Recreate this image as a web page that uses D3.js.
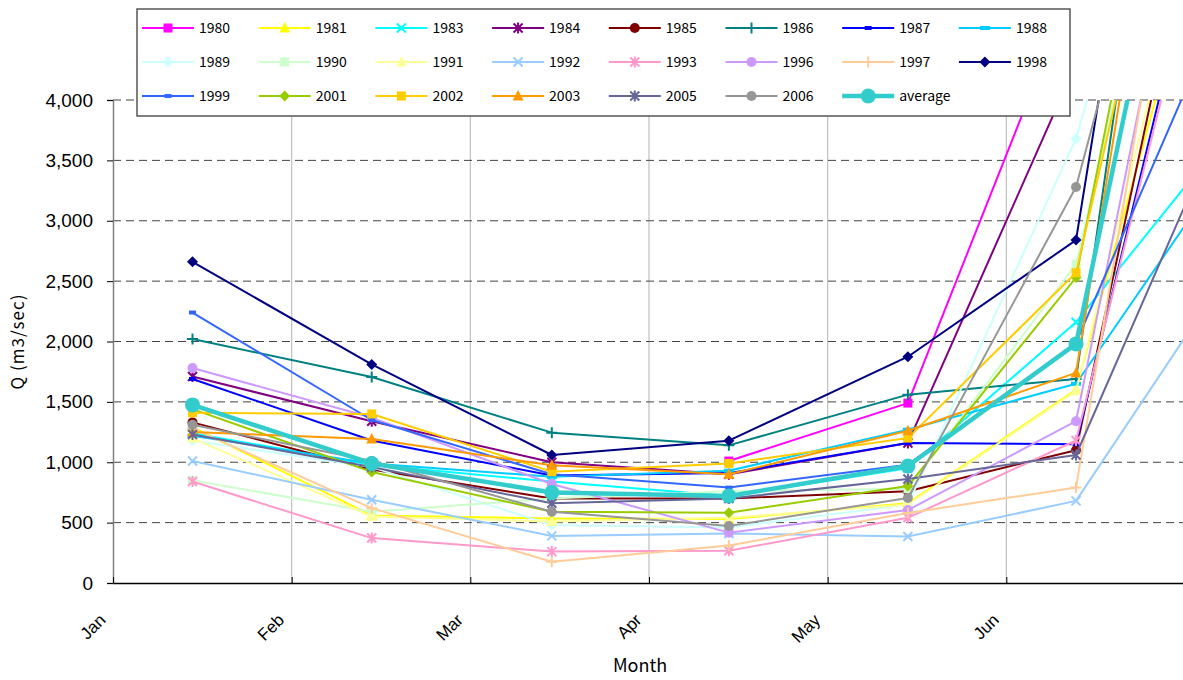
<!DOCTYPE html>
<meta charset="utf-8">
<style>
  body { margin: 0; background: #fff; }
  svg { font-family: "Noto Sans CJK JP", "DejaVu Sans", sans-serif; }
  .axis .tick text { font-size: 19px; fill: #000; }
  .legend text { font-size: 14px; fill: #000; }
</style>
<body>
</body>
<script src="https://cdn.jsdelivr.net/npm/d3@7/dist/d3.min.js"></script>
<script>
  // month positions of the samples (in months after 1 Jan)
  const samplePos = [0.445, 1.448, 2.456, 3.447, 4.449, 5.39, 6.39];
  const monthLabels = ['Jan', 'Feb', 'Mar', 'Apr', 'May', 'Jun'];
  const yTicks = [0, 500, 1000, 1500, 2000, 2500, 3000, 3500, 4000];

  const years = ['1980', '1981', '1983', '1984', '1985', '1986', '1987', '1988',
                 '1989', '1990', '1991', '1992', '1993', '1996', '1997', '1998',
                 '1999', '2001', '2002', '2003', '2005', '2006', 'average'];
  const colors = ['#FF00FF', '#FFFF00', '#00FFFF', '#800080', '#800000', '#008080', '#0000FF', '#00CCFF',
                  '#CCFFFF', '#CCFFCC', '#FFFF99', '#99CCFF', '#FF99CC', '#CC99FF', '#FFCC99', '#000080',
                  '#3366FF', '#99CC00', '#FFCC00', '#FF9900', '#666699', '#969696', '#33CCCC'];
  const symbols = ['square', 'triangle', 'x', 'star', 'circle', 'plus', 'dash', 'wdash',
                   'diamond', 'square', 'triangle', 'x', 'star', 'circle', 'plus', 'diamond',
                   'dash', 'diamond', 'square', 'triangle', 'star', 'circle', 'circle'];
  // Q (m3/sec), Jan .. Jul
  const values = [
    [null, null, null, 1010, 1490, 5000, 6000],
    [1290, 560, 535, 530, 660, 1600, 7000],
    [1240, 980, 840, 720, 950, 2160, 4000],
    [1710, 1340, 1000, 900, 1160, 4300, 6000],
    [1330, 940, 700, 700, 760, 1100, 8000],
    [2020, 1706, 1245, 1140, 1560, 1690, 12000],
    [1690, 1180, 890, 910, 1160, 1150, 7300],
    [1220, 990, 880, 930, 1270, 1650, 3800],
    [1180, 960, 480, 460, 650, 3680, 8800],
    [850, 590, 700, 760, 780, 2640, 9000],
    [1200, 550, 510, 540, 650, 1590, 7500],
    [1010, 690, 390, 410, 385, 680, 2900],
    [840, 372, 260, 267, 540, 1180, 7100],
    [1780, 1370, 820, 417, 604, 1340, 8700],
    [1280, 620, 176, 310, 580, 790, 9600],
    [2660, 1810, 1060, 1179, 1874, 2840, 12000],
    [2240, 1350, 900, 790, 980, 1990, 5400],
    [1440, 920, 590, 582, 803, 2530, 10000],
    [1410, 1400, 922, 990, 1200, 2570, 9000],
    [1250, 1192, 975, 900, 1261, 1740, 11000],
    [1230, 960, 660, 700, 861, 1060, 4450],
    [1310, 1010, 590, 472, 704, 3280, 8800],
    [1475, 990, 750, 720, 969, 1980, 9000]
  ];

  const W = 1183, H = 680;
  const plot = {l: 113, r: 1185, t: 100, b: 583};

  const svg = d3.select('body').append('svg')
    .attr('width', W).attr('height', H);

  const x = d3.scaleLinear().domain([0, 6]).range([plot.l, plot.r]);
  const y = d3.scaleLinear().domain([0, 4000]).range([plot.b, plot.t]);

  svg.append('clipPath').attr('id', 'clip')
    .append('rect')
      .attr('x', plot.l).attr('y', plot.t)
      .attr('width', plot.r - plot.l).attr('height', plot.b - plot.t);

  // vertical month grid
  svg.append('g')
    .selectAll('line')
    .data(d3.range(1, 6))
    .join('line')
      .attr('x1', d => x(d)).attr('x2', d => x(d))
      .attr('y1', plot.t).attr('y2', plot.b)
      .attr('stroke', '#c0c0c0').attr('stroke-width', 1.2);

  // horizontal dashed grid
  svg.append('g')
    .selectAll('line')
    .data(yTicks.slice(1))
    .join('line')
      .attr('x1', plot.l).attr('x2', plot.r)
      .attr('y1', d => y(d)).attr('y2', d => y(d))
      .attr('stroke', '#444').attr('stroke-width', 1)
      .attr('stroke-dasharray', '8,5');

  // y axis
  const yAxis = svg.append('g')
    .attr('class', 'axis')
    .attr('transform', `translate(${plot.l},0)`)
    .call(d3.axisLeft(y).tickValues(yTicks).tickFormat(d3.format(',')).tickSize(6).tickPadding(14));
  yAxis.select('.domain').attr('stroke', '#808080').attr('stroke-width', 1.5);
  yAxis.selectAll('.tick line').attr('stroke', '#000');

  // x axis
  const xAxis = svg.append('g')
    .attr('class', 'axis')
    .attr('transform', `translate(0,${plot.b})`)
    .call(d3.axisBottom(x).tickValues(d3.range(0, 6)).tickFormat(i => monthLabels[i])
      .tickSize(0).tickSizeOuter(0));
  xAxis.select('.domain').attr('stroke', '#000').attr('stroke-width', 1.5);
  xAxis.selectAll('.tick text')
    .attr('text-anchor', 'end')
    .attr('dy', 0)
    .style('font-size', '17px')
    .attr('transform', 'translate(-9,36) rotate(-45)');
  xAxis.selectAll('.tick')
    .append('line')
      .attr('y1', 0).attr('y2', -6)
      .attr('stroke', '#000');

  svg.append('text')
    .attr('x', x(2.95)).attr('y', 672)
    .attr('text-anchor', 'middle')
    .attr('font-size', 18)
    .text('Month');

  svg.append('text')
    .attr('transform', `translate(24,${y(2000)}) rotate(-90)`)
    .attr('text-anchor', 'middle')
    .attr('font-size', 17)
    .attr('letter-spacing', 1)
    .text('Q (m3/sec)');

  function marker(g, sym, color, big) {
    const s = big ? 6 : 4.5;
    switch (sym) {
      case 'square':
        g.append('rect').attr('x', -s).attr('y', -s).attr('width', 2 * s).attr('height', 2 * s).attr('fill', color);
        break;
      case 'triangle':
        g.append('path').attr('d', `M0,${-s - 1.5}L${s + 1},${s}L${-s - 1},${s}Z`).attr('fill', color);
        break;
      case 'diamond':
        g.append('path').attr('d', `M0,${-s - 1}L${s + 1},0L0,${s + 1}L${-s - 1},0Z`).attr('fill', color);
        break;
      case 'circle':
        g.append('circle').attr('r', big ? 7.5 : s + 0.5).attr('fill', color);
        break;
      case 'x':
        g.append('path').attr('d', `M${-s},${-s}L${s},${s}M${-s},${s}L${s},${-s}`)
          .attr('stroke', color).attr('stroke-width', 2);
        break;
      case 'star':
        g.append('path').attr('d', `M${-s},${-s}L${s},${s}M${-s},${s}L${s},${-s}M0,${-s - 1}L0,${s + 1}`)
          .attr('stroke', color).attr('stroke-width', 2);
        break;
      case 'plus':
        g.append('path').attr('d', `M${-s - 1},0L${s + 1},0M0,${-s - 1}L0,${s + 1}`)
          .attr('stroke', color).attr('stroke-width', 2);
        break;
      case 'dash':
        g.append('rect').attr('x', -3.5).attr('y', -2).attr('width', 7).attr('height', 4).attr('fill', color);
        break;
      case 'wdash':
        g.append('rect').attr('x', -5).attr('y', -2).attr('width', 10).attr('height', 4).attr('fill', color);
        break;
    }
  }

  const series = years.map((yr, i) => ({
    name: yr, color: colors[i], sym: symbols[i], avg: yr === 'average',
    pts: values[i].map((v, j) => ({m: samplePos[j], v}))
  }));

  const line = d3.line()
    .defined(d => d.v !== null)
    .x(d => x(d.m)).y(d => y(d.v));

  const plotG = svg.append('g').attr('clip-path', 'url(#clip)');

  series.forEach(s => {
    const g = plotG.append('g');
    g.append('path')
      .datum(s.pts)
      .attr('fill', 'none')
      .attr('stroke', s.color)
      .attr('stroke-width', s.avg ? 4.5 : 2)
      .attr('stroke-linejoin', 'round')
      .attr('d', line);
    s.pts.filter(d => d.v !== null && d.v <= 4000).forEach(d => {
      const mg = g.append('g').attr('transform', `translate(${x(d.m)},${y(d.v)})`);
      marker(mg, s.sym, s.color, s.avg);
    });
  });

  // legend
  const leg = svg.append('g').attr('class', 'legend');
  leg.append('rect')
    .attr('x', 137).attr('y', 9).attr('width', 933).attr('height', 107)
    .attr('fill', '#fff').attr('stroke', '#555').attr('stroke-width', 1.5);
  series.forEach((s, i) => {
    const col = i % 8, row = Math.floor(i / 8);
    const cx = 168 + col * 116.7, cy = 28 + row * 34;
    const g = leg.append('g').attr('transform', `translate(${cx},${cy})`);
    g.append('line').attr('x1', -26).attr('x2', 26)
      .attr('stroke', s.color).attr('stroke-width', s.avg ? 4.5 : 2);
    marker(g, s.sym, s.color, s.avg);
    g.append('text').attr('x', 31).attr('y', 5).text(s.name);
  });
</script>
